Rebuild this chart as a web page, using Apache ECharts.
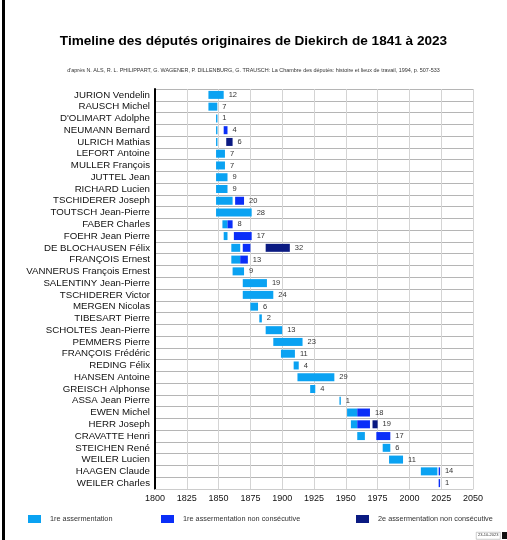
<!DOCTYPE html>
<html><head><meta charset="utf-8">
<script src="https://cdn.jsdelivr.net/npm/echarts@6/dist/echarts.min.js"></script>
<style>html,body{margin:0;padding:0;background:#fff}#c{width:507px;height:540px}</style>
</head><body><div id="c"></div>
<script>
var names = ["JURION Vendelin","RAUSCH Michel","D'OLIMART Adolphe","NEUMANN Bernard","ULRICH Mathias","LEFORT Antoine","MULLER François","JUTTEL Jean","RICHARD Lucien","TSCHIDERER Joseph","TOUTSCH Jean-Pierre","FABER Charles","FOEHR Jean Pierre","DE BLOCHAUSEN Félix","FRANÇOIS Ernest","VANNERUS François Ernest","SALENTINY Jean-Pierre","TSCHIDERER Victor","MERGEN Nicolas","TIBESART Pierre","SCHOLTES Jean-Pierre","PEMMERS Pierre","FRANÇOIS Frédéric","REDING Félix","HANSEN Antoine","GREISCH Alphonse","ASSA Jean Pierre","EWEN Michel","HERR Joseph","CRAVATTE Henri","STEICHEN René","WEILER Lucien","HAAGEN Claude","WEILER Charles"];
// 1re assermentation
var firstStart = [1842,1842,1848,1848,1848,1848,1848,1848,1848,1848,1848,1853,1854,1860,1860,1861,1869,1869,1875,1882,1887,1893,1899,1909,1912,1922,1945,1951,1954,1959,1979,1984,2009,null];
var firstEnd   = [1854,1849,1849,1849,1849,1855,1855,1857,1857,1861,1876,1857,1857,1867,1867,1870,1888,1893,1881,1884,1900,1916,1910,1913,1941,1926,1946,1959,1959,1965,1985,1995,2022,null];
// 1re assermentation non consécutive
var secondStart = [null,null,null,1854,null,null,null,null,null,1863,null,1857,1862,1869,1867,null,null,null,null,null,null,null,null,null,null,null,null,1959,1959,1974,null,null,2023,2023];
var secondEnd   = [null,null,null,1857,null,null,null,null,null,1870,null,1861,1876,1875,1873,null,null,null,null,null,null,null,null,null,null,null,null,1969,1969,1985,null,null,2024,2024];
// 2e assermentation non consécutive
var thirdStart = [null,null,null,null,1856,null,null,null,null,null,null,null,null,1887,null,null,null,null,null,null,null,null,null,null,null,null,null,null,1971,null,null,null,null,null];
var thirdEnd   = [null,null,null,null,1861,null,null,null,null,null,null,null,null,1906,null,null,null,null,null,null,null,null,null,null,null,null,null,null,1975,null,null,null,null,null];
var totals = [12,7,1,4,6,7,7,9,9,20,28,8,17,32,13,9,19,24,6,2,13,23,11,4,29,4,1,18,19,17,6,11,14,1];
var xTicks = [1800,1825,1850,1875,1900,1925,1950,1975,2000,2025,2050];
var seriesNames = ["1re assermentation","1re assermentation non consécutive","2e assermentation non consécutive"];
var colors = ["#0aa2f2","#0a2ef8","#0a1a82"];

function seg(s,e){var d=[];for(var i=0;i<names.length;i++){if(s[i]!=null)d.push([s[i],e[i],i]);}return d;}
var labelData=[];
for(var i=0;i<names.length;i++){
  var m=Math.max(firstEnd[i]||0,secondEnd[i]||0,thirdEnd[i]||0);
  labelData.push([m,i,totals[i]]);
}
function renderBar(params,api){
  var a=api.coord([api.value(0),api.value(2)]);
  var b=api.coord([api.value(1),api.value(2)]);
  var h=8;
  return {type:'rect',shape:{x:a[0],y:a[1]-h/2,width:Math.max(b[0]-a[0],1.4),height:h},style:{fill:api.visual('color')}};
}
function renderLabel(params,api){
  var a=api.coord([api.value(0),api.value(1)]);
  return {type:'text',x:a[0]+5,y:a[1],style:{text:String(api.value(2)),fill:'#333',fontSize:7.5,fontFamily:'Liberation Sans, Arial',verticalAlign:'middle',align:'left'}};
}
var chart=echarts.init(document.getElementById('c'),null,{renderer:'canvas'});
var lg=function(name,left){return {data:[name],left:left,top:515,padding:0,itemWidth:13,itemHeight:8,icon:'rect',textStyle:{fontSize:7.3,color:'#333',fontFamily:'Liberation Sans, Arial',padding:[0,0,0,4]},selectedMode:false};};
chart.setOption({
  animation:false,
  title:[{text:'Timeline des députés originaires de Diekirch de 1841 à 2023',left:'center',top:29,textStyle:{fontSize:13.6,fontWeight:'bold',color:'#000',fontFamily:'Liberation Sans, Arial'}},
         {text:"d'après N. ALS, R. L. PHILIPPART, G. WAGENER, P. DILLENBURG, G. TRAUSCH: La Chambre des députés: histoire et lieux de travail, 1994, p. 507-533",left:'center',top:63,textStyle:{fontSize:5.45,fontWeight:'normal',color:'#333',fontFamily:'Liberation Sans, Arial'}}],
  legend:[lg(seriesNames[0],28),lg(seriesNames[1],161),lg(seriesNames[2],356)],
  grid:{left:155,right:34,top:89,bottom:51},
  xAxis:{type:'value',min:1800,max:2050,interval:25,
    axisLine:{show:true,lineStyle:{color:'#ccc'}},axisTick:{show:false},
    axisLabel:{fontSize:9,color:'#111',margin:5,fontFamily:'Liberation Sans, Arial',formatter:function(v){return xTicks.indexOf(v)>=0?String(v):'';}},
    splitLine:{show:true,lineStyle:{color:'#d4d4d4',width:1}}},
  yAxis:{type:'category',data:names,inverse:true,
    axisLine:{show:true,lineStyle:{color:'#000',width:2}},axisTick:{show:false},
    axisLabel:{interval:0,fontSize:9.7,color:'#111',margin:5,fontFamily:'Liberation Sans, Arial'},
    splitLine:{show:true,interval:0,lineStyle:{color:'#b5b5b5',width:1}}},
  series:[
    {name:seriesNames[0],type:'custom',renderItem:renderBar,itemStyle:{color:colors[0]},encode:{x:[0,1],y:2},data:seg(firstStart,firstEnd)},
    {name:seriesNames[1],type:'custom',renderItem:renderBar,itemStyle:{color:colors[1]},encode:{x:[0,1],y:2},data:seg(secondStart,secondEnd)},
    {name:seriesNames[2],type:'custom',renderItem:renderBar,itemStyle:{color:colors[2]},encode:{x:[0,1],y:2},data:seg(thirdStart,thirdEnd)},
    {name:'labels',type:'custom',renderItem:renderLabel,encode:{x:0,y:1},data:labelData,silent:true}
  ],
  graphic:[
    {type:'rect',left:2,top:0,shape:{width:3,height:540},style:{fill:'#000'}},
    {type:'rect',left:476,top:532,shape:{width:24,height:7},style:{fill:'#fff',stroke:'#999',lineWidth:0.5}},
    {type:'text',left:478,top:533,style:{text:'23-10-2023',fontSize:4,fill:'#333',fontFamily:'Liberation Sans, Arial'}},
    {type:'rect',left:502,top:532,shape:{width:5,height:7},style:{fill:'#111'}}
  ]
});
</script></body></html>
